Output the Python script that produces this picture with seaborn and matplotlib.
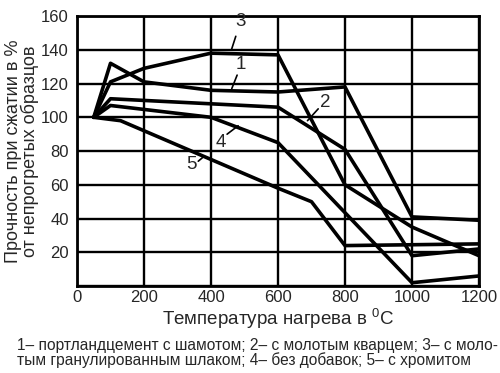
import pandas as pd
import seaborn as sns
import matplotlib.pyplot as plt

# значения (температура, °C -> прочность, %)
temp_1 = [50, 100, 200, 400, 600, 800, 1000, 1200]
strength_1 = [100, 132, 121, 116, 115, 118, 41, 39]

temp_2 = [50, 100, 400, 600, 800, 1000, 1200]
strength_2 = [100, 111, 108, 106, 81, 18, 22]

temp_3 = [50, 100, 200, 400, 600, 800, 1000, 1200]
strength_3 = [100, 121, 129, 138, 137, 60, 35, 18]

temp_4 = [50, 100, 400, 600, 1000, 1200]
strength_4 = [100, 107, 100, 85, 2, 6]

temp_5 = [50, 130, 600, 700, 800, 1200]
strength_5 = [100, 98, 58, 50, 24, 25]

series_names = ['1', '2', '3', '4', '5']
x_ticks = [0, 200, 400, 600, 800, 1000, 1200]
y_ticks = [0, 20, 40, 60, 80, 100, 120, 140, 160]
y_ticklabels = ['', '20', '40', '60', '80', '100', '120', '140', '160']

caption = ('1– портландцемент с шамотом; 2– с молотым кварцем; 3– с моло-\n'
           'тым гранулированным шлаком; 4– без добавок; 5– с хромитом')

frames = []
for name, t, s in zip(series_names,
                      [temp_1, temp_2, temp_3, temp_4, temp_5],
                      [strength_1, strength_2, strength_3, strength_4, strength_5]):
    frames.append(pd.DataFrame({'temp': t, 'strength': s, 'series': name}))
df = pd.concat(frames, ignore_index=True)

sns.set_style('white')
plt.rcParams['font.family'] = ['Liberation Sans', 'DejaVu Sans']
plt.rcParams['mathtext.fontset'] = 'custom'
plt.rcParams['mathtext.rm'] = 'Liberation Sans'

fig = plt.figure(figsize=(5, 3.73), dpi=100)
ax = fig.add_axes([0.154, 0.233, 0.804, 0.724])

sns.lineplot(data=df, x='temp', y='strength', hue='series', sort=False,
             palette=['black'] * 5, linewidth=2.6, legend=False, ax=ax)

ax.set_xlim(0, 1200)
ax.set_ylim(0, 160)
ax.set_xticks(x_ticks)
ax.set_yticks(y_ticks)
ax.set_yticklabels(y_ticklabels)
ax.tick_params(labelsize=12, length=0)
ax.tick_params(axis='y', pad=6)
ax.tick_params(axis='x', pad=3)
ax.grid(True, color='black', linewidth=1.7)
for sp in ax.spines.values():
    sp.set_color('black')
    sp.set_linewidth(2)

ax.set_xlabel('Температура нагрева в $^{\\rm 0}$C', fontsize=13.5, labelpad=1)
ax.set_ylabel('Прочность при сжатии в %\nот непрогретых образцов', fontsize=13,
              labelpad=1, linespacing=0.95)

# номера кривых с выносками
labels = [('3', (487, 157), (474, 148), (461, 140)),
          ('1', (490, 131), (478, 125), (462, 117)),
          ('2', (742, 109), (720, 105), (688, 98)),
          ('4', (430, 85), (448, 90), (481, 95)),
          ('5', (343, 72), (362, 74), (380, 77))]
for txt, pos, p0, p1 in labels:
    ax.text(pos[0], pos[1], txt, fontsize=13.5, ha='center', va='center')
    ax.plot([p0[0], p1[0]], [p0[1], p1[1]], color='black', linewidth=1.2)

fig.text(0.034, 0.014, caption, fontsize=11.2, ha='left', va='bottom', linespacing=0.95)

fig.savefig('out.png', dpi=100)
